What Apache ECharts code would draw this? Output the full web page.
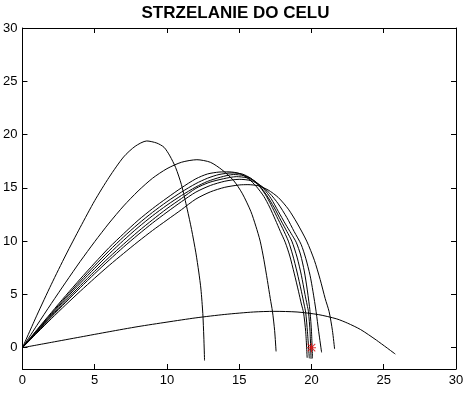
<!DOCTYPE html>
<html>
<head>
<meta charset="utf-8">
<script src="https://cdn.jsdelivr.net/npm/echarts@6/dist/echarts.min.js"></script>
<style>html,body{margin:0;padding:0;background:#fff;}#c{width:471px;height:394px;}</style>
</head>
<body>
<div id="c"></div>
<script>
var titleText = 'STRZELANIE DO CELU';
var xTicks = [0, 5, 10, 15, 20, 25, 30];
var yTicks = [0, 5, 10, 15, 20, 25, 30];
var target = [[20, 0]];

var shot1 = [[0,0],[1,3.05],[2,5.95],[3,8.7],[4,11.3],[5,13.8],[6,16.0],[7,17.9],[7.8,18.9],[8.6,19.4],[9.3,19.2],[9.8,18.8],[10.2,18.0],[10.6,16.9],[11.0,15.3],[11.4,13.0],[11.7,11.1],[12.0,8.9],[12.2,7.1],[12.35,5.5],[12.48,3.2],[12.55,1.0],[12.6,-1.2]];
var shot2 = [[0,0],[1,2.1],[2,4.15],[3,6.15],[4,8.1],[5,9.95],[6,11.7],[7,13.3],[8,14.7],[9,15.9],[10,16.8],[11,17.4],[12.07,17.64],[13,17.4],[13.8,16.7],[14.6,15.7],[15.2,14.5],[15.8,12.8],[16.15,11.4],[16.45,10.0],[16.7,8.3],[16.95,6.3],[17.15,4.6],[17.3,3.4],[17.45,1.6],[17.55,-0.35]];
var shotA = [[0,0],[1,1.68],[2,3.3],[3,4.9],[4,6.45],[5,7.95],[6,9.4],[7,10.7],[8,11.95],[9,13.05],[10,14.05],[11,15.0],[12,15.85],[12.8,16.3],[13.6,16.48],[14.3,16.5],[15.0,16.35],[15.6,15.9],[16.2,15.1],[16.7,14.2],[17.1,13.2],[17.5,12.0],[17.85,10.9],[18.18,9.9],[18.5,8.6],[18.8,7.0],[19.1,5.3],[19.3,4.1],[19.45,3.3],[19.6,1.5],[19.7,-0.95]];
var shotB = [[0,0],[1,1.62],[2,3.2],[3,4.75],[4,6.25],[5,7.7],[6,9.1],[7,10.4],[8,11.6],[9,12.7],[10,13.7],[11,14.6],[12,15.4],[12.8,15.9],[13.6,16.25],[14.5,16.4],[15.2,16.3],[15.8,15.9],[16.3,15.3],[16.8,14.4],[17.2,13.4],[17.6,12.3],[18.0,11.2],[18.4,10.0],[18.7,8.7],[19.0,7.1],[19.3,5.3],[19.5,4.0],[19.6,3.3],[19.72,1.5],[19.85,-1.0]];
var shotC = [[0,0],[1,1.56],[2,3.1],[3,4.6],[4,6.05],[5,7.45],[6,8.8],[7,10.08],[8,11.28],[9,12.38],[10,13.38],[11,14.28],[12,15.08],[12.8,15.6],[13.7,16.0],[14.6,16.25],[15.3,16.15],[15.9,15.8],[16.4,15.2],[16.9,14.3],[17.4,13.2],[17.9,11.9],[18.3,10.9],[18.64,10.0],[19.0,8.5],[19.3,6.8],[19.55,5.0],[19.7,4.0],[19.79,3.38],[19.9,1.5],[19.97,-1.05]];
var shotD = [[0,0],[1,1.5],[2,2.98],[3,4.42],[4,5.82],[5,7.18],[6,8.48],[7,9.72],[8,10.9],[9,12.0],[10,13.05],[11,14.0],[12,14.95],[12.9,15.5],[13.9,15.85],[14.8,16.05],[15.5,15.95],[16.1,15.6],[16.7,14.9],[17.2,14.0],[17.7,12.8],[18.2,11.6],[18.6,10.7],[18.94,9.9],[19.25,8.7],[19.5,7.2],[19.7,5.5],[19.82,4.3],[19.9,3.38],[20.0,1.5],[20.07,-1.0]];
var shotE = [[0,0],[1,1.45],[2,2.88],[3,4.27],[4,5.63],[5,6.95],[6,8.22],[7,9.45],[8,10.6],[9,11.7],[10,12.72],[11,13.7],[12,14.6],[13,15.22],[14,15.62],[15,15.8],[15.8,15.68],[16.5,15.2],[17.1,14.5],[17.7,13.5],[18.3,12.2],[18.8,10.9],[19.28,9.7],[19.6,8.4],[19.9,6.8],[20.1,5.3],[20.32,3.38],[20.5,1.5],[20.7,-0.44]];
var shotF = [[0,0],[1,1.37],[2,2.72],[3,4.03],[4,5.3],[5,6.53],[6,7.72],[7,8.85],[8,9.95],[9,11.0],[10,11.98],[11,12.95],[12,13.95],[13,14.62],[14,15.05],[15,15.27],[15.6,15.3],[16.3,15.2],[17.0,14.8],[17.7,14.1],[18.4,13.0],[19.0,11.7],[19.67,10.0],[20.2,8.2],[20.6,6.4],[20.95,4.6],[21.22,3.38],[21.45,1.6],[21.6,-0.13]];
var shotLow = [[0,0],[2,0.5],[4,1.0],[6,1.5],[8,1.98],[10,2.4],[12,2.8],[14,3.12],[16,3.35],[17.4,3.41],[19,3.35],[20.5,3.1],[21.75,2.7],[22.5,2.3],[23.4,1.7],[24.5,0.7],[25.8,-0.6]];

var shots = [shot1, shot2, shotA, shotB, shotC, shotD, shotE, shotF, shotLow];

var FONT = 'Liberation Sans';
var chart = echarts.init(document.getElementById('c'), null, {renderer: 'canvas'});

var series = shots.map(function (d) {
  return {
    type: 'line', data: d, xAxisIndex: 0, yAxisIndex: 0,
    showSymbol: false, symbol: 'none', smooth: 0.25,
    lineStyle: {color: '#000', width: 1}, animation: false, silent: true
  };
});
series.push({
  type: 'scatter', data: target, xAxisIndex: 0, yAxisIndex: 0,
  symbol: 'path://M0,4.4H10V5.6H0Z M4.4,0H5.6V10H4.4Z M1.2,0.4L9.6,8.8L8.8,9.6L0.4,1.2Z M8.8,0.4L9.6,1.2L1.2,9.6L0.4,8.8Z',
  symbolSize: 9, itemStyle: {color: '#e00000'}, animation: false, silent: true, z: 5
});

var tickStyle = {show: true, inside: true, length: 5, lineStyle: {color: '#000', width: 1}};
chart.setOption({
  animation: false,
  backgroundColor: '#fff',
  title: {
    text: titleText, left: 'center', top: 0,
    textStyle: {fontFamily: FONT, fontSize: 17, fontWeight: 'bold', color: '#000'}
  },
  grid: {left: 22, right: 15, top: 28, bottom: 25, containLabel: false},
  xAxis: [
    {type: 'value', min: 0, max: 30, interval: 5, position: 'bottom',
     axisLine: {show: true, onZero: false, lineStyle: {color: '#000', width: 1}},
     axisTick: tickStyle, splitLine: {show: false},
     axisLabel: {color: '#000', fontFamily: FONT, fontSize: 13, margin: 5}},
    {type: 'value', min: 0, max: 30, interval: 5, position: 'top',
     axisLine: {show: true, onZero: false, lineStyle: {color: '#000', width: 1}},
     axisTick: tickStyle, splitLine: {show: false}, axisLabel: {show: false}}
  ],
  yAxis: [
    {type: 'value', min: -2, max: 30, position: 'left',
     axisLine: {show: true, onZero: false, lineStyle: {color: '#000', width: 1}},
     axisTick: {show: true, inside: true, length: 5, lineStyle: {color: '#000', width: 1}, customValues: yTicks},
     splitLine: {show: false},
     axisLabel: {color: '#000', fontFamily: FONT, fontSize: 13, margin: 5, customValues: yTicks}},
    {type: 'value', min: -2, max: 30, position: 'right',
     axisLine: {show: true, onZero: false, lineStyle: {color: '#000', width: 1}},
     axisTick: {show: true, inside: true, length: 5, lineStyle: {color: '#000', width: 1}, customValues: yTicks},
     splitLine: {show: false}, axisLabel: {show: false}}
  ],
  series: series
});
</script>
</body>
</html>
